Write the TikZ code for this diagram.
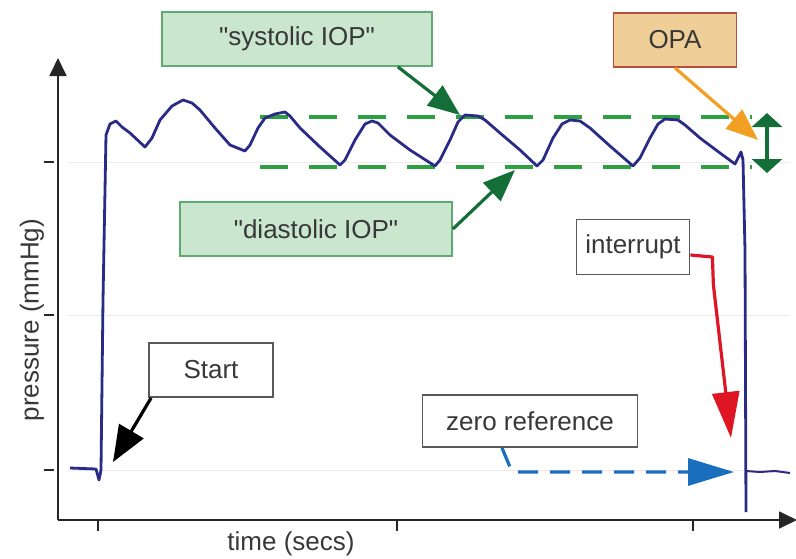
\documentclass[tikz,border=0pt]{standalone}
\usepackage{fontspec}
\setmainfont{Liberation Sans}
\usetikzlibrary{arrows.meta}
\definecolor{trace blue}{RGB}{42,42,135}
\definecolor{level green}{RGB}{45,160,65}
\definecolor{mark green}{RGB}{20,110,55}
\definecolor{box green}{RGB}{202,230,206}
\definecolor{edge green}{RGB}{95,170,110}
\definecolor{opa fill}{RGB}{240,206,152}
\definecolor{opa edge}{RGB}{180,80,60}
\definecolor{opa arrow}{RGB}{242,160,35}
\definecolor{cut red}{RGB}{222,22,35}
\definecolor{zero blue}{RGB}{25,110,190}
\colorlet{label text}{black!78}
\colorlet{grid line}{black!8}
% measured pressure curve
\def\pulsetrace{(70,468) -- (96,469) -- (99,480) -- (101,470) -- (103,300) -- (106,135)
  -- (110,124) -- (116,121) -- (122,127) -- (130,133) -- (145,147) -- (152,138)
  -- (160,120) -- (172,106) -- (183,100) -- (192,103) -- (200,110) -- (215,128)
  -- (230,145) -- (240,149) -- (245,151) -- (250,145) -- (258,128) -- (265,118)
  -- (275,114) -- (285,112) -- (290,116) -- (300,128) -- (320,147) -- (340,165)
  -- (345,160) -- (355,140) -- (365,124) -- (372,121) -- (378,123) -- (390,135)
  -- (410,150) -- (435,166) -- (440,160) -- (450,140) -- (458,122) -- (465,115)
  -- (478,116) -- (485,120) -- (500,133) -- (520,150) -- (537,166) -- (543,160)
  -- (553,138) -- (562,124) -- (570,120) -- (580,121) -- (590,128) -- (610,146)
  -- (633,166) -- (640,158) -- (650,138) -- (658,124) -- (665,119) -- (678,120)
  -- (685,125) -- (700,138) -- (720,153) -- (735,164) -- (738,158) -- (741,152)
  -- (743,160) -- (745,250) -- (746,512)}
\def\zerotail{(746,471) -- (760,472) -- (775,471) -- (790,473)}
\tikzset{
  plain/.style={font=\fontsize{26}{30}\selectfont, text=label text},
  whitebox/.style={plain, draw=black!65, line width=1.8pt, fill=white},
  greenbox/.style={plain, draw=edge green, line width=1.8pt, fill=box green},
  opabox/.style={plain, draw=opa edge, line width=1.8pt, fill=opa fill},
  axis/.style={line width=1.8pt, black!85, -{Triangle[length=18pt,width=17pt]}},
  tick/.style={line width=1.8pt, black!85},
  gridline/.style={line width=1pt, grid line},
  trace/.style={line width=2.8pt, trace blue, line join=round},
  level/.style={line width=4pt, level green, dash pattern=on 28pt off 21pt},
  pointer/.style={line width=3.2pt, -{Triangle[length=32pt,width=25pt]}},
  longpointer/.style={line width=3.2pt, -{Triangle[length=46pt,width=27pt]}}
}

\begin{document}
\begin{tikzpicture}[x=1pt,y=-1pt]
    \useasboundingbox (0,0) rectangle (796,558);
    \foreach \y in {162,315,470}
        \draw[gridline] (68,\y) -- (790,\y);
    % axes
    \draw[axis] (58,520) -- (58,58);
    \draw[axis] (58,520) -- (797,520);
    \foreach \y in {162,315,470}
        \draw[tick] (44,\y) -- (54,\y);
    \foreach \x in {98,397,693}
        \draw[tick] (\x,520) -- (\x,531);
    \node[plain, rotate=90] (ylab) at (32,320) {pressure (mmHg)};
    \node[plain] (xlab) at (291,544) {time (secs)};

    % systolic and diastolic levels
    \draw[level] (260,117) -- (752,117);
    \draw[level] (260,167) -- (752,167);
    \draw[trace] \pulsetrace;
    \draw[trace, line width=2pt] \zerotail;
    \coordinate (opatop) at (767,113);
    \coordinate (opabot) at (767,173);
    \draw[line width=3.2pt, mark green, {Triangle[length=14pt,width=30pt]}-{Triangle[length=14pt,width=30pt]}] (opatop) -- (opabot);

    % labels
    \node[greenbox, minimum width=270pt, minimum height=54pt] (sys) at (297,39) {\textquotedbl systolic IOP\textquotedbl};
    \node[greenbox, minimum width=272pt, minimum height=54pt] (dia) at (316,229) {\textquotedbl diastolic IOP\textquotedbl};
    \node[opabox, minimum width=123pt, minimum height=54pt] (opa) at (675,40) {OPA};
    \node[whitebox, minimum width=113pt, minimum height=55pt, inner sep=2pt] (int) at (633,247) {interrupt};
    \node[whitebox, minimum width=124pt, minimum height=54pt] (start) at (211,370) {Start};
    \node[whitebox, minimum width=215pt, minimum height=52pt] (zero) at (530,421) {zero reference};

    \coordinate (syspeak) at (460,115);
    \coordinate (diatrough) at (515,170);
    \coordinate (opagap) at (758,140);
    \coordinate (cut) at (731,438);
    \coordinate (rise) at (113,462);
    \coordinate (base) at (734,472);

    \draw[pointer, mark green] ([xshift=-35pt]sys.south east) -- (syspeak);
    \draw[pointer, mark green] (dia.east) -- (diatrough);
    \draw[pointer, opa arrow] (opa.south) -- (opagap);
    \draw[pointer, black, -{Triangle[length=36pt,width=28pt]}] ([xshift=3pt]start.south west) -- (rise);
    \draw[longpointer, cut red, line join=round] ([yshift=-8pt]int.east) -- ++(22,2) -- ++(1,28) -- (cut);
    \draw[longpointer, zero blue, dash pattern=on 20pt off 12pt] ([xshift=-28pt]zero.south) -- ++(10,24) -- (base);
\end{tikzpicture}
\end{document}
